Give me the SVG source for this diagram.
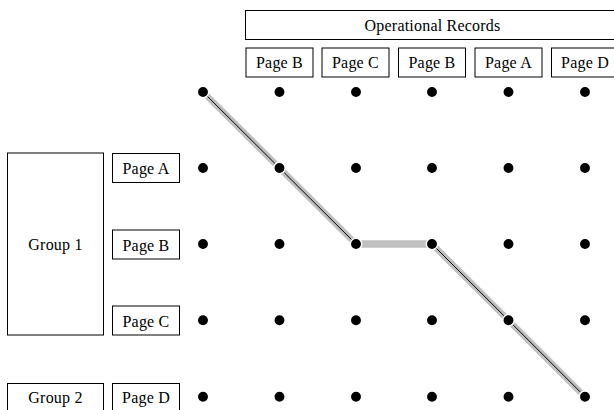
<svg xmlns="http://www.w3.org/2000/svg" width="614" height="410" viewBox="0 0 614 410">
<style>
.box{fill:#fff;stroke:#000;stroke-width:1}
.t{font-family:"Liberation Serif","Times New Roman",serif;font-size:16px;letter-spacing:0.2px;fill:#000;text-anchor:middle}
.g{fill:none;stroke:#c0c0c0;stroke-width:6.5}
.k{fill:none;stroke:#000;stroke-width:1}
.d{fill:#000;stroke:#fff;stroke-width:1.5}
</style>
<rect width="614" height="410" fill="#fff"/>
<g id="header">
<rect class="box" x="245.5" y="10.5" width="373" height="29"/>
<text class="t" x="432.5" y="30.5">Operational Records</text>
</g>
<g id="col1"><rect class="box" x="246" y="48" width="67" height="29"/><text class="t" x="279.5" y="68">Page B</text></g>
<g id="col2"><rect class="box" x="322" y="48" width="67" height="29"/><text class="t" x="355.5" y="68">Page C</text></g>
<g id="col3"><rect class="box" x="398.5" y="48" width="67" height="29"/><text class="t" x="432" y="68">Page B</text></g>
<g id="col4"><rect class="box" x="475" y="48" width="67" height="29"/><text class="t" x="508.5" y="68">Page A</text></g>
<g id="col5"><rect class="box" x="551.5" y="48" width="67" height="29"/><text class="t" x="585" y="68">Page D</text></g>
<g id="group1"><rect class="box" x="7.5" y="153" width="96" height="182"/><text class="t" x="55.5" y="250">Group 1</text></g>
<g id="group2"><rect class="box" x="7.5" y="383.5" width="96" height="40"/><text class="t" x="55.5" y="403">Group 2</text></g>
<g id="rowA"><rect class="box" x="112.5" y="153.5" width="67" height="29"/><text class="t" x="146" y="174">Page A</text></g>
<g id="rowB"><rect class="box" x="112.5" y="230" width="67" height="29"/><text class="t" x="146" y="250.5">Page B</text></g>
<g id="rowC"><rect class="box" x="112.5" y="306" width="67" height="29"/><text class="t" x="146" y="326.5">Page C</text></g>
<g id="rowD"><rect class="box" x="112.5" y="383.5" width="67" height="40"/><text class="t" x="146" y="403">Page D</text></g>
<g id="connectors">
<polyline class="g" points="203,92 279.5,168 356,244"/>
<line class="g" x1="356" y1="244" x2="432" y2="244" style="stroke-width:7.5"/>
<polyline class="g" points="432,244 508.5,320.3 585,396.7"/>
<polyline class="k" points="203,92 279.5,168 356,244"/>
<polyline class="k" points="432,244 508.5,320.3 585,396.7"/>
</g>
<g id="dots">
<g id="r0"><circle class="d" cx="203" cy="92" r="5.7"/><circle class="d" cx="279.5" cy="92" r="5.7"/><circle class="d" cx="356" cy="92" r="5.7"/><circle class="d" cx="432" cy="92" r="5.7"/><circle class="d" cx="508.5" cy="92" r="5.7"/><circle class="d" cx="585" cy="92" r="5.7"/></g>
<g id="r1"><circle class="d" cx="203" cy="168" r="5.7"/><circle class="d" cx="279.5" cy="168" r="5.7"/><circle class="d" cx="356" cy="168" r="5.7"/><circle class="d" cx="432" cy="168" r="5.7"/><circle class="d" cx="508.5" cy="168" r="5.7"/><circle class="d" cx="585" cy="168" r="5.7"/></g>
<g id="r2"><circle class="d" cx="203" cy="244" r="5.7"/><circle class="d" cx="279.5" cy="244" r="5.7"/><circle class="d" cx="356" cy="244" r="5.7"/><circle class="d" cx="432" cy="244" r="5.7"/><circle class="d" cx="508.5" cy="244" r="5.7"/><circle class="d" cx="585" cy="244" r="5.7"/></g>
<g id="r3"><circle class="d" cx="203" cy="320.3" r="5.7"/><circle class="d" cx="279.5" cy="320.3" r="5.7"/><circle class="d" cx="356" cy="320.3" r="5.7"/><circle class="d" cx="432" cy="320.3" r="5.7"/><circle class="d" cx="508.5" cy="320.3" r="5.7"/><circle class="d" cx="585" cy="320.3" r="5.7"/></g>
<g id="r4"><circle class="d" cx="203" cy="396.7" r="5.7"/><circle class="d" cx="279.5" cy="396.7" r="5.7"/><circle class="d" cx="356" cy="396.7" r="5.7"/><circle class="d" cx="432" cy="396.7" r="5.7"/><circle class="d" cx="508.5" cy="396.7" r="5.7"/><circle class="d" cx="585" cy="396.7" r="5.7"/></g>
</g>
</svg>
